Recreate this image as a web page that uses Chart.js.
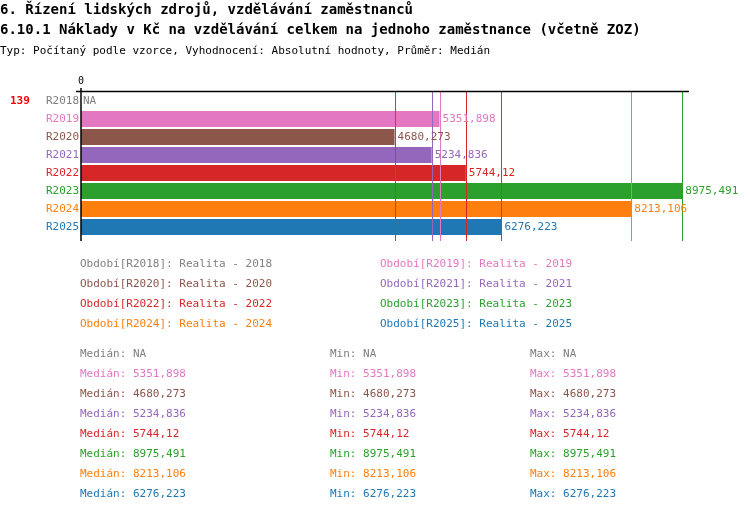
<!DOCTYPE html>
<html><head><meta charset="utf-8">
<script src="https://cdn.jsdelivr.net/npm/chart.js@4"></script>
<style>body{margin:0;background:#fff}canvas{display:block}</style>
</head><body>
<div style="width:750px;height:512px"><canvas id="c"></canvas></div>
<script>
const categories = ['R2018','R2019','R2020','R2021','R2022','R2023','R2024','R2025'];
const values = [null,5351.898,4680.273,5234.836,5744.12,8975.491,8213.106,6276.223];
const valueLabels = ['NA','5351,898','4680,273','5234,836','5744,12','8975,491','8213,106','6276,223'];
const colors = ['#7f7f7f','#e377c2','#8c564b','#9467bd','#d62728','#2ca02c','#ff7f0e','#1f77b4'];
const legendTexts = ['Období[R2018]: Realita - 2018','Období[R2019]: Realita - 2019','Období[R2020]: Realita - 2020','Období[R2021]: Realita - 2021','Období[R2022]: Realita - 2022','Období[R2023]: Realita - 2023','Období[R2024]: Realita - 2024','Období[R2025]: Realita - 2025'];
const xTicks = [0];
const F = '"DejaVu Sans Mono", monospace';

const plugin = {
  id: 'custom',
  afterDatasetsDraw(chart) {
    const ctx = chart.ctx, xs = chart.scales.x, ys = chart.scales.y, a = chart.chartArea;
    ctx.save();
    // titles
    ctx.fillStyle = '#000'; ctx.textBaseline = 'middle'; ctx.textAlign = 'left';
    ctx.font = 'bold 14px ' + F;
    ctx.fillText('6. Řízení lidských zdrojů, vzdělávání zaměstnanců', 0, 10);
    ctx.fillText('6.10.1 Náklady v Kč na vzdělávání celkem na jednoho zaměstnance (včetně ZOZ)', 0, 30);
    ctx.font = '11px ' + F;
    ctx.fillText('Typ: Počítaný podle vzorce, Vyhodnocení: Absolutní hodnoty, Průměr: Medián', 0, 51);
    // vertical lines
    values.forEach((v, i) => {
      if (v == null) return;
      const x = Math.round(xs.getPixelForValue(v)) + 0.5;
      ctx.strokeStyle = colors[i]; ctx.lineWidth = 1;
      ctx.beginPath(); ctx.moveTo(x, a.top); ctx.lineTo(x, 241); ctx.stroke();
    });
    // axis
    ctx.strokeStyle = '#000'; ctx.lineWidth = 1.5;
    ctx.beginPath(); ctx.moveTo(a.left - 5, a.top - 0.5); ctx.lineTo(a.right, a.top - 0.5); ctx.stroke();
    ctx.beginPath(); ctx.moveTo(a.left, a.top - 4); ctx.lineTo(a.left, 241); ctx.stroke();
    ctx.fillStyle = '#000'; ctx.font = '10px ' + F; ctx.textAlign = 'center';
    xTicks.forEach(t => ctx.fillText(String(t), xs.getPixelForValue(t), 81));
    // labels
    ctx.font = '11px ' + F;
    categories.forEach((c, i) => {
      const y = ys.getPixelForValue(i);
      ctx.fillStyle = colors[i]; ctx.textAlign = 'right';
      ctx.fillText(c, a.left - 2, y);
      ctx.textAlign = 'left';
      const x = values[i] == null ? a.left + 2 : xs.getPixelForValue(values[i]) + 3;
      ctx.fillText(valueLabels[i], x, y);
    });
    ctx.fillStyle = '#ff0000'; ctx.font = 'bold 11px ' + F; ctx.textAlign = 'left';
    ctx.fillText('139', 10, ys.getPixelForValue(0));
    // legend
    ctx.font = '11px ' + F;
    legendTexts.forEach((t, i) => {
      ctx.fillStyle = colors[i];
      ctx.fillText(t, i % 2 ? 380 : 80, 264 + Math.floor(i / 2) * 20);
    });
    // stats
    valueLabels.forEach((v, i) => {
      const y = 354 + i * 20; ctx.fillStyle = colors[i];
      ctx.fillText('Medián: ' + v, 80, y);
      ctx.fillText('Min: ' + v, 330, y);
      ctx.fillText('Max: ' + v, 530, y);
    });
    ctx.restore();
  }
};

new Chart(document.getElementById('c'), {
  type: 'bar',
  data: { labels: categories, datasets: [{ data: values, backgroundColor: colors, categoryPercentage: 1, barPercentage: 0.89 }] },
  options: {
    indexAxis: 'y', responsive: true, maintainAspectRatio: false, animation: false,
    layout: { padding: { left: 81, right: 61, top: 92, bottom: 276 } },
    plugins: { legend: { display: false }, tooltip: { enabled: false } },
    scales: {
      x: { display: false, min: 0, max: 9075 },
      y: { display: false }
    }
  },
  plugins: [plugin]
});
</script>
</body></html>
